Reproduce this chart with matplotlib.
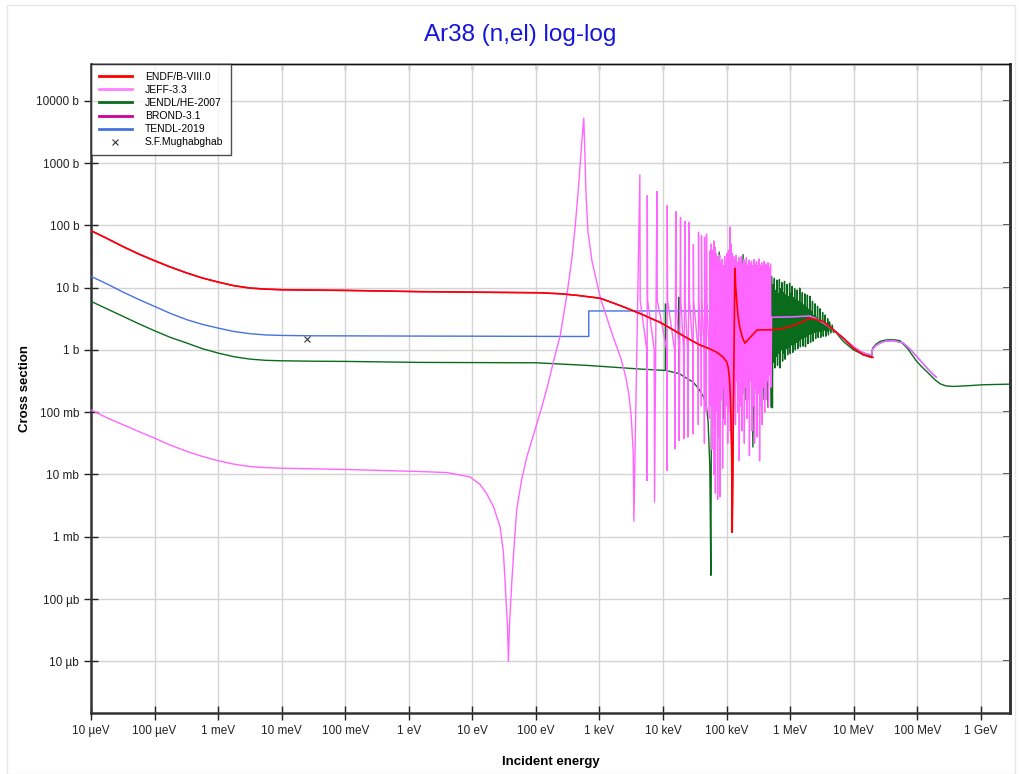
import numpy as np
import matplotlib
matplotlib.use("Agg")
import matplotlib.pyplot as plt
from matplotlib.ticker import FixedLocator, NullLocator
from matplotlib.patches import Rectangle

plt.rcParams["font.family"] = ["Liberation Sans", "DejaVu Sans"]

# values, stored as log10(E / eV) and log10(sigma / b)
endf_logE = [-5.0, -4.75, -4.5, -4.25, -4.0, -3.75, -3.49, -3.25, -3.0, -2.75, -2.5, -2.25,
             -2.0, -1.5, -1.0, 0.17, 2.06, 2.4, 2.647, 2.85, 3.016, 3.17, 3.33, 3.49,
             3.647, 3.8, 3.951, 4.13, 4.313, 4.45, 4.58, 4.737, 4.85, 4.948, 5.0, 5.026,
             5.045, 5.063, 5.08, 5.089, 5.131, 5.145, 5.157, 5.18, 5.21, 5.25, 5.288,
             5.48, 5.709, 5.85, 6.0, 6.155, 6.312, 6.417, 6.52, 6.68, 6.837, 6.995,
             7.152, 7.283, 7.301]
endf_logxs = [1.914, 1.79, 1.66, 1.54, 1.432, 1.33, 1.234, 1.155, 1.089, 1.03, 0.993, 0.975,
              0.966, 0.96, 0.955, 0.935, 0.917, 0.9, 0.876, 0.85, 0.828, 0.77, 0.71, 0.645,
              0.58, 0.51, 0.444, 0.34, 0.23, 0.15, 0.08, 0.016, -0.04, -0.118, -0.19, -0.278,
              -0.45, -0.813, -1.6, -2.93, 1.31, 1.0, 0.829, 0.55, 0.348, 0.2, 0.107,
              0.32, 0.323, 0.335, 0.377, 0.43, 0.511, 0.484, 0.457, 0.323, 0.19, 0.029,
              -0.078, -0.12, -0.12]

# JEFF-3.3: smooth part, isolated resonances, dense forest, fast region
jeff_logE = [-5.0, -4.75, -4.5, -4.25, -4.0, -3.75, -3.49, -3.25, -3.0, -2.75, -2.5, -2.25,
             -2.0, -1.0, 0.174, 0.6, 0.963, 1.121, 1.226, 1.332, 1.437, 1.489, 1.516,
             1.553, 1.568, 1.584, 1.621, 1.658, 1.70, 1.779, 1.858, 1.963, 2.068, 2.174,
             2.279, 2.384, 2.489, 2.568, 2.621, 2.674, 2.716, 2.753, 2.768, 2.789, 2.82,
             2.884, 3.016, 3.226, 3.332, 3.41, 3.463, 3.50, 3.532, 3.542,
             3.636, 3.641, 3.745, 3.750, 3.753, 3.758, 3.862, 3.867, 3.904, 3.909, 4.059,
             4.064, 4.067, 4.072, 4.182, 4.187, 4.202, 4.207, 4.250, 4.255, 4.276, 4.281,
             4.323, 4.328, 4.344, 4.349, 4.386, 4.391, 4.412, 4.417, 4.470, 4.475, 4.478,
             4.483, 4.551, 4.556, 4.559, 4.564, 4.599, 4.604, 4.606, 4.611, 4.647, 4.652,
             4.654, 4.659, 4.677, 4.682, 4.685, 4.690, 4.725, 4.730,
             4.737, 4.745, 4.760, 4.768, 4.780, 4.788, 4.800, 4.806, 4.816, 4.824, 4.835,
             4.842, 4.852, 4.860, 4.872, 4.880, 4.892, 4.898, 4.910, 4.918, 4.930, 4.938,
             4.950, 4.958, 4.970, 4.978, 4.990, 4.998, 5.010, 5.018, 5.030, 5.040, 5.052,
             5.060, 5.072, 5.080, 5.092, 5.100, 5.112, 5.120, 5.132, 5.140, 5.152, 5.160,
             5.172, 5.180, 5.192, 5.200, 5.212, 5.220, 5.232, 5.240, 5.252, 5.260, 5.272,
             5.280, 5.292, 5.300, 5.312, 5.320, 5.332, 5.340, 5.352, 5.360, 5.372, 5.380,
             5.392, 5.400, 5.412, 5.420, 5.432, 5.440, 5.452, 5.460, 5.472, 5.480, 5.492,
             5.500, 5.512, 5.520, 5.532, 5.540, 5.552, 5.560, 5.572, 5.580, 5.592, 5.600,
             5.612, 5.620, 5.632, 5.640, 5.652, 5.660, 5.672, 5.680, 5.692, 5.700, 5.709,
             6.0, 6.312, 6.39, 6.53, 6.68, 6.84, 6.995, 7.1, 7.205, 7.283, 7.299, 7.35,
             7.415, 7.5, 7.625, 7.7, 7.782, 7.88, 7.992, 8.1, 8.202, 8.301]
jeff_logxs = [-0.962, -1.09, -1.20, -1.31, -1.417, -1.53, -1.63, -1.71, -1.78, -1.835, -1.873, -1.89,
              -1.90, -1.92, -1.953, -1.97, -2.04, -2.16, -2.31, -2.515, -2.84, -3.25, -3.73,
              -4.44, -5.0, -4.44, -3.73, -3.14, -2.544, -2.07, -1.716, -1.36, -1.006, -0.62,
              -0.178, 0.237, 0.89, 1.48, 2.01, 2.66, 3.25, 3.72, 3.25, 2.49, 1.89,
              1.42, 0.828, 0.178, -0.118, -0.414, -0.71, -1.065, -1.66, -2.75,
              2.81, 0.8, 0.0, -2.10, 2.476, 0.8, 0.0, -2.444, 2.545, 0.8, 0.0,
              -1.936, 2.316, 0.8, 0.0, -1.588, 2.219, 0.8, 0.0, -1.455, 2.128, 0.8,
              0.0, -1.428, 2.064, 0.8, 0.0, -1.401, 2.048, 0.8, 0.0, -1.348, 1.69,
              0.8, 0.0, -1.2, 1.888, 0.8, 0.0, -0.9, 1.834, 0.8, 0.0, -1.5,
              1.807, 0.8, 0.0, -1.0, 1.861, 0.8, 0.0, -1.1,
              1.59, -0.9, 1.70, -1.6, 1.60, -1.2, 1.75, -2.0, 1.65, -2.3, 1.55,
              -1.0, 1.50, -2.4, 1.45, -1.4, 1.52, -2.36, 1.40, -0.8, 1.45, -1.9,
              1.35, -0.6, 1.50, -1.2, 1.42, -0.9, 1.55, -1.5, 1.60, -1.0, 1.97,
              -1.3, 1.70, -0.8, 1.55, -1.66, 1.50, -0.7, 1.45, -1.2, 1.52, -0.5,
              1.40, -1.0, 1.48, -1.78, 1.42, -0.9, 1.50, -1.3, 1.38, -0.7, 1.45,
              -1.5, 1.40, -0.6, 1.48, -1.1, 1.36, -0.8, 1.44, -1.7, 1.38, -0.5,
              1.42, -1.3, 1.35, -0.9, 1.45, -1.5, 1.38, -0.6, 1.42, -1.4, 1.35,
              -0.7, 1.46, -1.78, 1.36, -0.9, 1.40, -1.2, 1.34, -0.6, 1.42, -1.0,
              1.38, -0.8, 1.36, -0.5, 1.40, -0.92, 1.32, -0.4, 1.38, -0.6, 0.522,
              0.53, 0.543, 0.511, 0.43, 0.323, 0.18, 0.056, -0.02, -0.067, -0.078, 0.013, 0.07,
              0.109, 0.14, 0.147, 0.13, 0.109, 0.02, -0.105, -0.23, -0.346, -0.44]

jendl_logE = [-5.0, -4.75, -4.5, -4.25, -4.0, -3.75, -3.49, -3.25, -3.0, -2.75, -2.5, -2.25,
              -2.0, -1.5, -1.0, 0.17, 2.0, 2.805, 3.647,
              4.036, 4.040, 4.044, 4.246, 4.250, 4.254, 4.475, 4.56, 4.64, 4.685, 4.71,
              4.737, 4.753,
              4.769, 4.78, 4.80, 4.82, 4.85, 4.87, 4.885, 4.90, 4.93, 4.95, 4.98, 5.00,
              5.03, 5.06, 5.09, 5.12, 5.15, 5.18, 5.21, 5.24, 5.26, 5.29, 5.32, 5.35,
              5.38, 5.415, 5.44, 5.47, 5.50, 5.53, 5.56, 5.59, 5.62, 5.65, 5.68, 5.70,
              5.712, 5.722, 5.732, 5.742, 5.752, 5.762, 5.772, 5.782, 5.792, 5.802, 5.812,
              5.822, 5.832, 5.842, 5.852, 5.862, 5.872, 5.882, 5.892, 5.902, 5.912, 5.922,
              5.932, 5.942, 5.952, 5.962, 5.972, 5.982, 5.992, 6.002, 6.012, 6.022, 6.032,
              6.042, 6.052, 6.062, 6.072, 6.082, 6.092, 6.102, 6.112, 6.122, 6.132, 6.142,
              6.152, 6.162, 6.172, 6.182, 6.192, 6.202, 6.212, 6.222, 6.232, 6.242, 6.252,
              6.262, 6.272, 6.282, 6.292, 6.302, 6.312, 6.322, 6.332, 6.342, 6.352, 6.362,
              6.372, 6.382, 6.392, 6.402, 6.412, 6.422, 6.432, 6.442, 6.452, 6.462, 6.472,
              6.482, 6.492, 6.502, 6.512, 6.522, 6.532, 6.542, 6.552, 6.562, 6.572, 6.582,
              6.592, 6.602, 6.622, 6.642, 6.662, 6.682, 6.706, 6.837, 6.995, 7.152, 7.283,
              7.299, 7.35, 7.415, 7.5, 7.572, 7.65, 7.73, 7.85, 7.992, 8.1, 8.202, 8.28,
              8.36, 8.45, 8.57, 8.78, 9.04, 9.46]
jendl_logxs = [0.779, 0.66, 0.54, 0.42, 0.307, 0.2, 0.109, 0.02, -0.051, -0.11, -0.148, -0.168,
               -0.175, -0.182, -0.185, -0.201, -0.207, -0.249, -0.308,
               -0.33, 0.738, -0.33, -0.38, 0.845, -0.38, -0.519, -0.62, -0.76, -0.92, -1.15,
               -1.88, -3.62,
               1.19, -1.2, 1.1, -0.8, 1.3, -1.0, 1.57, -0.6, 1.2, -1.1, 1.0, -0.7,
               1.3, -0.9, 1.1, -0.5, 1.2, -1.0, 1.3, -0.6, 1.53, -0.8, 1.2, -0.5,
               1.1, -1.56, 1.25, -0.7, 1.15, -0.4, 1.2, -0.8, 1.1, -0.92, 1.0, -0.92,
               1.18, -0.93, 1.05, -0.20, 1.15, -0.29, 0.95, -0.10, 1.12, -0.25, 0.90,
               -0.05, 1.13, -0.29, 0.98, 0.00, 1.08, -0.18, 0.92, -0.05, 1.10, -0.15,
               0.88, 0.02, 1.05, -0.08, 0.85, 0.05, 1.07, -0.06, 0.90, 0.08, 1.02,
               -0.04, 0.84, 0.10, 0.98, 0.00, 0.80, 0.12, 0.96, 0.02, 0.78, 0.15,
               0.99, 0.05, 0.75, 0.18, 0.92, 0.06, 0.72, 0.20, 0.90, 0.05, 0.68,
               0.22, 0.88, 0.10, 0.65, 0.25, 0.86, 0.12, 0.62, 0.26, 0.78, 0.14,
               0.55, 0.28, 0.74, 0.18, 0.52, 0.30, 0.70, 0.20, 0.48, 0.30, 0.66,
               0.20, 0.45, 0.32, 0.60, 0.22, 0.44, 0.32, 0.56, 0.22, 0.42, 0.30,
               0.50, 0.24, 0.45, 0.27, 0.40, 0.28, 0.297, 0.136, 0.002, -0.078, -0.105,
               0.029, 0.09, 0.136, 0.158, 0.163, 0.16, 0.147, 0.02, -0.185, -0.3, -0.4, -0.48,
               -0.544, -0.578, -0.587, -0.576, -0.56, -0.55]

tendl_logE = [-5.0, -4.75, -4.5, -4.25, -4.0, -3.75, -3.49, -3.25, -3.0, -2.75, -2.5, -2.25,
              -2.0, -1.5, -1.0, 0.0, 1.0, 2.832, 2.832,
              4.58, 5.0, 5.709, 6.0, 6.312, 6.39, 6.53, 6.68, 6.84, 6.995, 7.1, 7.205,
              7.283, 7.299, 7.35, 7.415, 7.5, 7.625, 7.7, 7.782, 7.88, 7.992, 8.1, 8.202,
              8.301]
tendl_logxs = [1.18, 1.06, 0.93, 0.81, 0.698, 0.585, 0.484, 0.41, 0.35, 0.295, 0.26, 0.24,
               0.232, 0.226, 0.225, 0.222, 0.22, 0.215, 0.625,
               0.625, 0.62, 0.522, 0.53, 0.543, 0.511, 0.43, 0.323, 0.18, 0.056, -0.02, -0.067,
               -0.078, 0.013, 0.07, 0.109, 0.14, 0.147, 0.13, 0.109, 0.02, -0.105, -0.23, -0.346,
               -0.44]

# BROND-3.1 lies under ENDF/B-VIII.0 in the picture
brond_logE = endf_logE
brond_logxs = endf_logxs

exp_E = [0.0253]
exp_xs = [1.51]

x_tick_vals = [1e-5, 1e-4, 1e-3, 1e-2, 1e-1, 1, 10, 100, 1e3, 1e4, 1e5, 1e6, 1e7, 1e8, 1e9]
x_tick_labels = ["10 µeV", "100 µeV", "1 meV", "10 meV", "100 meV", "1 eV", "10 eV",
                 "100 eV", "1 keV", "10 keV", "100 keV", "1 MeV", "10 MeV", "100 MeV", "1 GeV"]
y_tick_vals = [1e-5, 1e-4, 1e-3, 1e-2, 1e-1, 1, 10, 100, 1e3, 1e4]
y_tick_labels = ["10 µb", "100 µb", "1 mb", "10 mb", "100 mb", "1 b", "10 b", "100 b",
                 "1000 b", "10000 b"]


def unlog(a):
    return 10.0 ** np.asarray(a)


fig = plt.figure(figsize=(10.2, 7.74), dpi=100)
fig.patches.append(Rectangle((7 / 1020, 0), 1008 / 1020, 1 - 5 / 774, transform=fig.transFigure,
                             fill=False, edgecolor="#e6e6e6", linewidth=1.0))
ax = fig.add_axes([91 / 1020, 1 - 713 / 774, 919 / 1020, 649 / 774])

ax.plot(unlog(brond_logE), unlog(brond_logxs), color="#cc0099", lw=1.0, label="BROND-3.1", zorder=2)
ax.plot(unlog(jendl_logE), unlog(jendl_logxs), color="#0b6b1c", lw=1.0, label="JENDL/HE-2007", zorder=3)
ax.plot(unlog(tendl_logE), unlog(tendl_logxs), color="#4472e0", lw=1.0, label="TENDL-2019", zorder=4)
ax.plot(unlog(jeff_logE), unlog(jeff_logxs), color="#ff66ff", lw=1.0, label="JEFF-3.3", zorder=5)
ax.plot(unlog(endf_logE), unlog(endf_logxs), color="#ff0000", lw=1.2, label="ENDF/B-VIII.0", zorder=6)
ax.plot(exp_E, exp_xs, linestyle="none", marker="x", color="#333333", ms=5, mew=0.8,
        label="S.F.Mughabghab", zorder=7)

ax.set_xscale("log")
ax.set_yscale("log")
ax.set_xlim(1e-5, 10 ** 9.46)
ax.set_ylim(10 ** -5.83, 10 ** 4.59)

ax.xaxis.set_major_locator(FixedLocator(x_tick_vals))
ax.xaxis.set_minor_locator(NullLocator())
ax.set_xticklabels(x_tick_labels)
ax.yaxis.set_major_locator(FixedLocator(y_tick_vals))
ax.yaxis.set_minor_locator(NullLocator())
ax.set_yticklabels(y_tick_labels)

ax.grid(True, color="#d4d4d4", lw=1.0)
ax.set_axisbelow(True)
ax.tick_params(axis="both", which="major", direction="inout", length=10, width=1.0,
               colors="#222222", labelsize=8.5, labelcolor="#222222")

# short inward ticks on the top and right edges
secx = ax.secondary_xaxis("top")
secx.xaxis.set_major_locator(FixedLocator(x_tick_vals))
secx.xaxis.set_minor_locator(NullLocator())
secx.tick_params(direction="in", length=4, width=1.0, colors="#555555", labeltop=False)
secx.spines["top"].set_linewidth(1.0)
secx.spines["top"].set_color("#111111")
secy = ax.secondary_yaxis("right")
secy.yaxis.set_major_locator(FixedLocator(y_tick_vals))
secy.yaxis.set_minor_locator(NullLocator())
secy.tick_params(direction="in", length=5, width=1.2, colors="#222222", labelright=False)
secy.spines["right"].set_linewidth(2.0)
secy.spines["right"].set_color("#333333")

for side in ("left", "bottom", "right"):
    ax.spines[side].set_linewidth(1.8)
    ax.spines[side].set_color("#333333")
ax.spines["top"].set_linewidth(1.0)
ax.spines["top"].set_color("#111111")

ax.set_xlabel("Incident energy", fontsize=9.5, fontweight="bold", labelpad=14)
ax.set_ylabel("Cross section", fontsize=9.5, fontweight="bold", labelpad=4)
fig.text(520 / 1020, 1 - 35 / 774, "Ar38 (n,el) log-log", ha="center", va="center",
         fontsize=17.5, color="#1515d8")

handles, labels = ax.get_legend_handles_labels()
order = ["ENDF/B-VIII.0", "JEFF-3.3", "JENDL/HE-2007", "BROND-3.1", "TENDL-2019", "S.F.Mughabghab"]
hmap = dict(zip(labels, handles))
leg = ax.legend([hmap[k] for k in order], order, loc="upper left", bbox_to_anchor=(0, 1),
                borderaxespad=0, fontsize=7.5, frameon=True, fancybox=False,
                handlelength=3.2, labelspacing=0.3, borderpad=0.75, handletextpad=1.2)
leg.get_frame().set_edgecolor("#222222")
leg.get_frame().set_linewidth(1.0)
for h in leg.get_lines():
    h.set_linewidth(2.0)
leg.get_lines()[1].set_color("#ff80ff")
leg.get_lines()[5].set_linewidth(0)
leg.set_zorder(10)

fig.savefig("out.png", dpi=100, facecolor="white")
